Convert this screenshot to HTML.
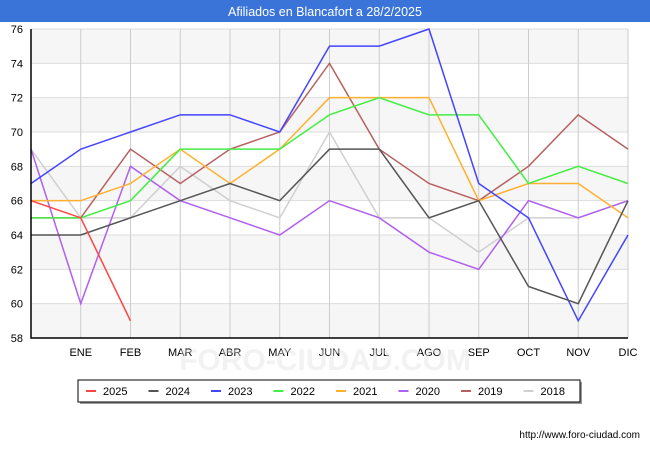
<!DOCTYPE html>
<html><head><meta charset="utf-8"><style>
body{margin:0;width:650px;height:450px;background:#fff;font-family:"Liberation Sans",sans-serif;overflow:hidden}
</style></head><body>
<svg width="650" height="450" xmlns="http://www.w3.org/2000/svg">
<rect x="0" y="0" width="650" height="22" fill="#3a74d8"/>
<text x="325" y="16" text-anchor="middle" fill="#fff" font-size="12.5">Afiliados en Blancafort a 28/2/2025</text>
<g id="plot"></g>
<text x="325" y="370" text-anchor="middle" fill="#e4e4e4" opacity="0.45" font-size="30" font-weight="bold">FORO-CIUDAD.COM</text>
<g id="legend"></g>
<text x="640" y="438" text-anchor="end" font-size="10" fill="#000">http://www.foro-ciudad.com</text>
</svg>
<script>
const months=["","ENE","FEB","MAR","ABR","MAY","JUN","JUL","AGO","SEP","OCT","NOV","DIC"];
const yTicks=[58,60,62,64,66,68,70,72,74,76];
const seriesNames=["2025","2024","2023","2022","2021","2020","2019","2018"];
const seriesColors=["#ff4444","#555555","#4444ff","#44ee44","#ffb030","#b060f0","#b86060","#d0d0d0"];
const s2025=[66,65,59];
const s2024=[64,64,65,66,67,66,69,69,65,66,61,60,66];
const s2023=[67,69,70,71,71,70,75,75,76,67,65,59,64];
const s2022=[65,65,66,69,69,69,71,72,71,71,67,68,67];
const s2021=[66,66,67,69,67,69,72,72,72,66,67,67,65];
const s2020=[69,60,68,66,65,64,66,65,63,62,66,65,66];
const s2019=[65,65,69,67,69,70,74,69,67,66,68,71,69];
const s2018=[69,65,65,68,66,65,70,65,65,63,65,65,66];
const allSeries=[s2025,s2024,s2023,s2022,s2021,s2020,s2019,s2018];
const NS="http://www.w3.org/2000/svg";
const X0=31,X1=628,Y0=338,Y1=29,ymin=58,ymax=76;
const xs=i=>X0+(X1-X0)*i/12;
const ys=v=>Y0-(v-ymin)*(Y0-Y1)/(ymax-ymin);
const plot=document.getElementById('plot');
function mk(tag,attrs,parent){const e=document.createElementNS(NS,tag);for(const k in attrs)e.setAttribute(k,attrs[k]);parent.appendChild(e);return e;}
for(let i=0;i<yTicks.length-1;i+=2){
 const r=mk('rect',{x:X0,y:ys(yTicks[i+1]),width:X1-X0,height:ys(yTicks[i])-ys(yTicks[i+1]),fill:'#f6f6f6'},plot);
 
 
}
yTicks.forEach(v=>{
 const l=mk('line',{x1:X0,x2:X1,y1:ys(v),y2:ys(v),stroke:'#dddddd'},plot);
 
 
 const t=mk('text',{x:X0-8,y:ys(v)+4,'text-anchor':'end','font-size':'11',fill:'#000'},plot);
 t.textContent=v;
 
 
});
months.forEach((m,i)=>{
 if(i>0){const l=mk('line',{x1:xs(i),x2:xs(i),y1:Y1,y2:Y0,stroke:'#cccccc'},plot);
 
 }
 const t=mk('text',{x:xs(i),y:356,'text-anchor':'middle','font-size':'11',fill:'#000'},plot);
 t.textContent=m;
 
 
});
for(let s=allSeries.length-1;s>=0;s--){
 const d=allSeries[s].map((v,i)=>(i?'L':'M')+xs(i)+','+ys(v)).join('');
 const p=mk('path',{d:d,fill:'none',stroke:seriesColors[s],'stroke-width':'1.5'},plot);
 
 
}
const ax=mk('path',{d:`M${X0},${Y1}V${Y0}H${X1}`,fill:'none',stroke:'#000','stroke-width':'1.5'},plot);


const lg=document.getElementById('legend');
const sh=mk('rect',{x:80,y:382,width:502,height:22,fill:'#999'},lg);


const box=mk('rect',{x:78,y:380,width:502,height:22,fill:'#fff',stroke:'#000'},lg);


seriesNames.forEach((n,i)=>{
 const x=86+i*62.5;
 const l=mk('line',{x1:x,x2:x+10,y1:391,y2:391,stroke:seriesColors[i],'stroke-width':'2'},lg);
 
 
 const t=mk('text',{x:x+17,y:395,'font-size':'11',fill:'#000'},lg);
 t.textContent=n;
 
 
});
</script>
</body></html>
